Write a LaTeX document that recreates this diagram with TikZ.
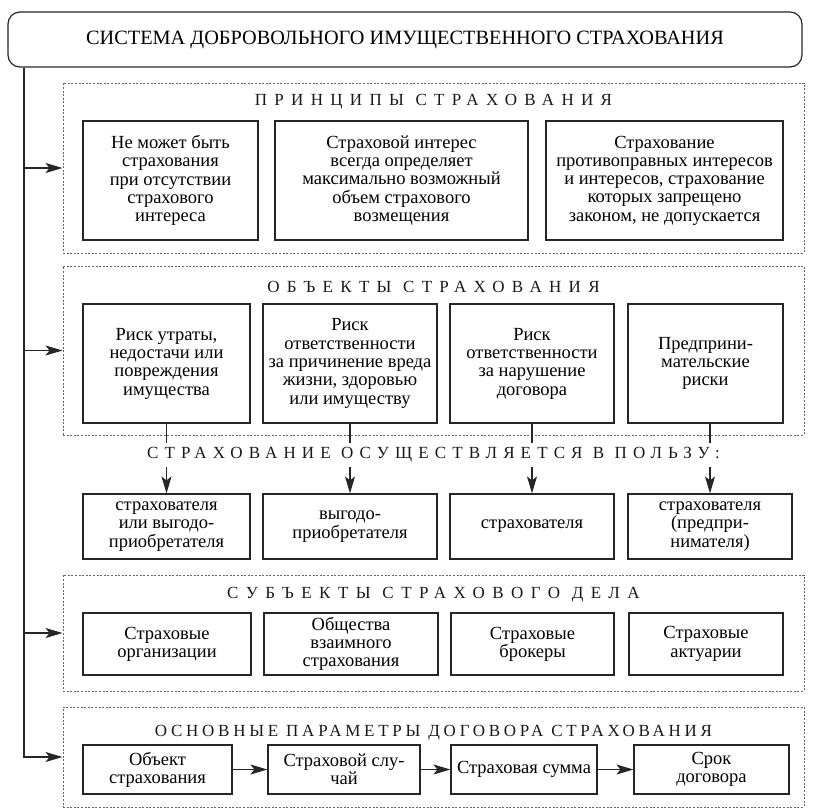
\documentclass[tikz,border=0pt]{standalone}
\usepackage{fontspec}
\setmainfont{Liberation Serif}
\usetikzlibrary{arrows.meta}
\newcommand\bodyfnt{\fontsize{18.5}{18.3}\selectfont}
\newcommand\hdfnt[1]{\fontsize{17}{18}\selectfont\addfontfeature{LetterSpace=#1}}
\tikzset{
  frame/.style={draw=black!85, line width=1.2pt, inner sep=0pt, align=center, font=\bodyfnt},
  sect/.style={draw=black!60, line width=1pt, dash pattern=on 2pt off 1.6pt, inner sep=0pt},
  hdr/.style={inner sep=0pt, text=black!90},
  link/.style={draw=black!85, line width=1.2pt},
  arr/.style={link, -{Stealth[length=17pt,width=10pt,inset=4pt]}},
}
\begin{document}
\begin{tikzpicture}[x=1pt,y=-1pt]
\useasboundingbox (0,0) rectangle (813,811);
% title
\node[draw=black!85, line width=1.2pt, rounded corners=12pt, minimum width=794pt, minimum height=55pt,
      font=\fontsize{20.3}{22}\selectfont] (top) at (405,39.5) {СИСТЕМА ДОБРОВОЛЬНОГО ИМУЩЕСТВЕННОГО СТРАХОВАНИЯ};
% sections
\node[sect, minimum width=741pt, minimum height=170pt] (sec1) at (433.5,168) {};
\node[sect, minimum width=741pt, minimum height=169pt] (sec2) at (433.5,350.5) {};
\node[sect, minimum width=741pt, minimum height=116pt] (sec3) at (433.5,633) {};
\node[sect, minimum width=741pt, minimum height=100pt] (sec4) at (433.5,757) {};
% headings
\node[hdr, font=\hdfnt{43}] (h1) at (433.5,102) {ПРИНЦИПЫ СТРАХОВАНИЯ};
\node[hdr, font=\hdfnt{43}] (h2) at (433.5,287) {ОБЪЕКТЫ СТРАХОВАНИЯ};
\node[hdr, font=\hdfnt{36}] (h3) at (433.5,455) {СТРАХОВАНИЕ ОСУЩЕСТВЛЯЕТСЯ В ПОЛЬЗУ:};
\node[hdr, font=\hdfnt{44}] (h4) at (433.5,595) {СУБЪЕКТЫ СТРАХОВОГО ДЕЛА};
\node[hdr, font=\hdfnt{22}] (h5) at (433.5,733) {ОСНОВНЫЕ ПАРАМЕТРЫ ДОГОВОРА СТРАХОВАНИЯ};
% principles
\node[frame, minimum width=175pt, minimum height=119pt] (p1) at (170.5,180.5) {Не может быть\\страхования\\при отсутствии\\страхового\\интереса};
\node[frame, minimum width=253pt, minimum height=119pt] (p2) at (401.5,180.5) {Страховой интерес\\всегда определяет\\максимально возможный\\объем страхового\\возмещения};
\node[frame, minimum width=237pt, minimum height=119pt] (p3) at (664.5,180.5) {Страхование\\противоправных интересов\\и интересов, страхование\\которых запрещено\\законом, не допускается};
% objects
\node[frame, minimum width=167pt, minimum height=119pt] (o1) at (166.5,363.5) {Риск утраты,\\недостачи или\\повреждения\\имущества};
\node[frame, minimum width=174pt, minimum height=119pt] (o2) at (350,363.5) {Риск\\ответственности\\за причинение вреда\\жизни, здоровью\\или имуществу};
\node[frame, minimum width=164pt, minimum height=119pt] (o3) at (532,363.5) {Риск\\ответственности\\за нарушение\\договора};
\node[frame, minimum width=155pt, minimum height=119pt] (o4) at (705.5,363.5) {Предприни-\\мательские\\риски};
% beneficiaries
\node[frame, minimum width=167pt, minimum height=65pt] (b1) at (166.5,526.5) {страхователя\\или выгодо-\\приобретателя};
\node[frame, minimum width=174pt, minimum height=65pt] (b2) at (350,526.5) {выгодо-\\приобретателя};
\node[frame, minimum width=164pt, minimum height=65pt] (b3) at (532,526.5) {страхователя};
\node[frame, minimum width=164pt, minimum height=65pt] (b4) at (710,526.5) {страхователя\\(предпри-\\нимателя)};
% subjects
\node[frame, minimum width=168pt, minimum height=62pt] (s1) at (167,644) {Страховые\\организации};
\node[frame, minimum width=174pt, minimum height=62pt] (s2) at (351,644) {Общества\\взаимного\\страхования};
\node[frame, minimum width=163pt, minimum height=62pt] (s3) at (532.5,644) {Страховые\\брокеры};
\node[frame, minimum width=154pt, minimum height=62pt] (s4) at (706,644) {Страховые\\актуарии};
% parameters
\node[frame, minimum width=149pt, minimum height=49pt] (r1) at (157.5,769.5) {Объект\\страхования};
\node[frame, minimum width=152pt, minimum height=49pt] (r2) at (344,769.5) {Страховой слу-\\чай};
\node[frame, minimum width=146pt, minimum height=49pt] (r3) at (524,769.5) {Страховая сумма};
\node[frame, minimum width=155pt, minimum height=49pt] (r4) at (711.5,769.5) {Срок\\договора};
% spine
\coordinate (sp) at (24,0);
\draw[arr] (sp |- top.south) |- (sec4.west);
\draw[arr] (sp |- sec1.west) -- (sec1.west);
\draw[arr] (sp |- sec2.west) -- (sec2.west);
\draw[arr] (sp |- sec3.west) -- (sec3.west);
% objects to beneficiaries
\coordinate (gapT) at (0,443);
\coordinate (gapB) at (0,467);
\draw[link] (o1.south) -- (o1.south |- gapT);
\draw[link] (o2.south) -- (o2.south |- gapT);
\draw[link] (o3.south) -- (o3.south |- gapT);
\draw[link] (b4.north |- o4.south) -- (b4.north |- gapT);
\draw[arr] (b1.north |- gapB) -- (b1.north);
\draw[arr] (b2.north |- gapB) -- (b2.north);
\draw[arr] (b3.north |- gapB) -- (b3.north);
\draw[arr] (b4.north |- gapB) -- (b4.north);
% parameter chain
\draw[arr] (r1.east) -- (r2.west);
\draw[arr] (r2.east) -- (r3.west);
\draw[arr] (r3.east) -- (r4.west);
\end{tikzpicture}
\end{document}
